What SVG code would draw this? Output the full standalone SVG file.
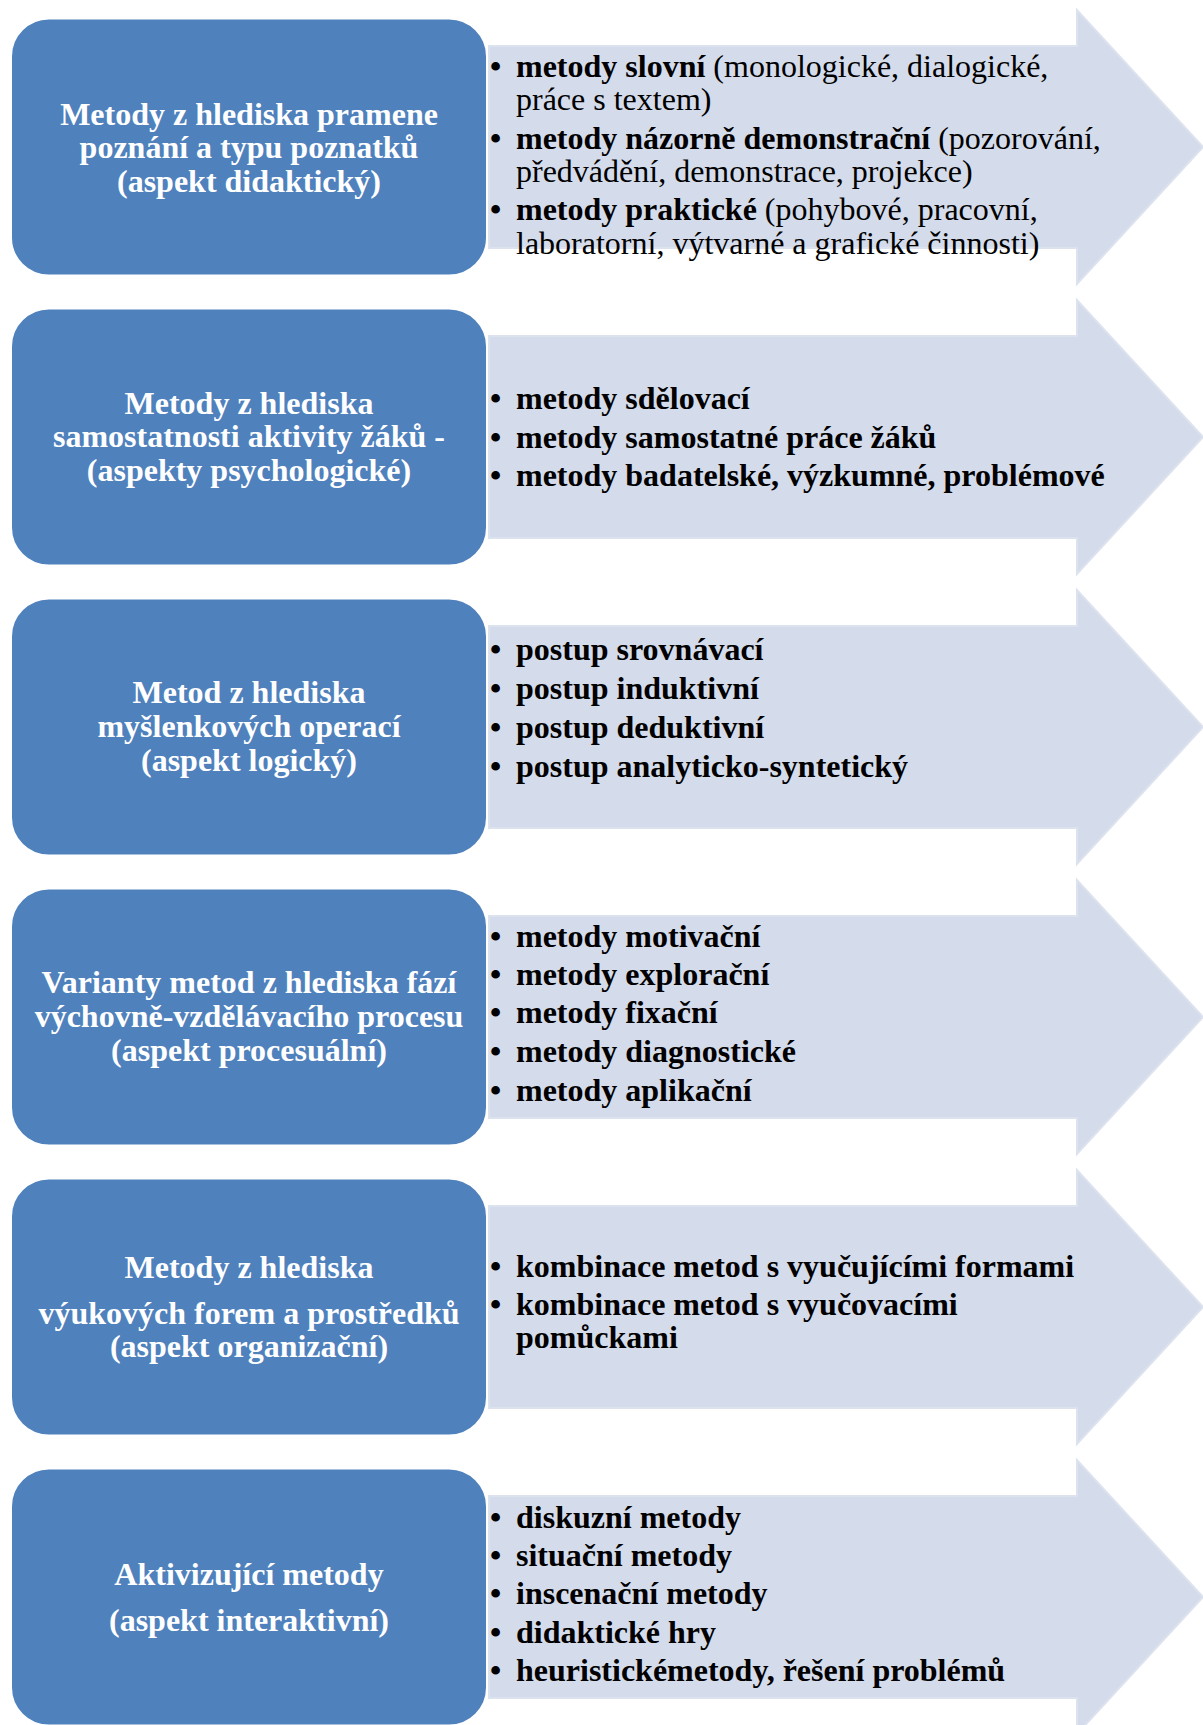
<svg xmlns="http://www.w3.org/2000/svg" xmlns:xlink="http://www.w3.org/1999/xlink" width="1203" height="1725" viewBox="0 0 1203 1725">
  <style>
    .box { fill: #4F81BD; stroke: #FFFFFF; stroke-width: 2; }
    .arrow { fill: #D4DBEA; stroke: #DCE2EE; stroke-width: 2; }
    .title { font-family: "Liberation Serif", "Times New Roman", serif; font-size: 32px; font-weight: bold; fill: #FFFFFF; text-anchor: middle; }
    .item { font-family: "Liberation Serif", "Times New Roman", serif; font-size: 32px; font-weight: bold; fill: #000000; }
    .plain { font-weight: normal; }
  </style>
  <defs>
    <!-- block arrow centred on y = 0 -->
    <path id="blockArrow" d="M489,-101 H1077 V-137 L1203,0 L1077,137 V101 H489 Z"/>
  </defs>

  <rect width="1203" height="1725" fill="#FFFFFF"/>

  <!-- block arrows carrying the item lists -->
  <g id="connectors">
    <use xlink:href="#blockArrow" class="arrow" transform="translate(0,147)"/>
    <use xlink:href="#blockArrow" class="arrow" transform="translate(0,437)"/>
    <use xlink:href="#blockArrow" class="arrow" transform="translate(0,727)"/>
    <use xlink:href="#blockArrow" class="arrow" transform="translate(0,1017)"/>
    <use xlink:href="#blockArrow" class="arrow" transform="translate(0,1307)"/>
    <use xlink:href="#blockArrow" class="arrow" transform="translate(0,1597)"/>
  </g>

  <!-- row 1 -->
  <g id="node-didakticky">
    <rect class="box" x="11" y="18.5" width="476" height="257" rx="38"/>
    <text class="title" x="249" y="125">Metody z hlediska pramene</text>
    <text class="title" x="249" y="158">poznání a typu poznatků</text>
    <text class="title" x="249" y="192">(aspekt didaktický)</text>
  </g>
  <g id="list-didakticky" class="item">
    <text x="490" y="77">•</text>
    <text x="516" y="77">metody slovní<tspan class="plain"> (monologické, dialogické,</tspan></text>
    <text x="516" y="110" class="plain">práce s textem)</text>
    <text x="490" y="149">•</text>
    <text x="516" y="149">metody názorně demonstrační<tspan class="plain"> (pozorování,</tspan></text>
    <text x="516" y="182" class="plain">předvádění, demonstrace, projekce)</text>
    <text x="490" y="220">•</text>
    <text x="516" y="220">metody praktické<tspan class="plain"> (pohybové, pracovní,</tspan></text>
    <text x="516" y="254" class="plain">laboratorní, výtvarné a grafické činnosti)</text>
  </g>

  <!-- row 2 -->
  <g id="node-psychologicky">
    <rect class="box" x="11" y="308.5" width="476" height="257" rx="38"/>
    <text class="title" x="249" y="414">Metody z hlediska</text>
    <text class="title" x="249" y="447">samostatnosti aktivity žáků -</text>
    <text class="title" x="249" y="481">(aspekty psychologické)</text>
  </g>
  <g id="list-psychologicky" class="item">
    <text x="490" y="409">•</text><text x="516" y="409">metody sdělovací</text>
    <text x="490" y="448">•</text><text x="516" y="448">metody samostatné práce žáků</text>
    <text x="490" y="486">•</text><text x="516" y="486">metody badatelské, výzkumné, problémové</text>
  </g>

  <!-- row 3 -->
  <g id="node-logicky">
    <rect class="box" x="11" y="598.5" width="476" height="257" rx="38"/>
    <text class="title" x="249" y="703">Metod z hlediska</text>
    <text class="title" x="249" y="737">myšlenkových operací</text>
    <text class="title" x="249" y="771">(aspekt logický)</text>
  </g>
  <g id="list-logicky" class="item">
    <text x="490" y="660">•</text><text x="516" y="660">postup srovnávací</text>
    <text x="490" y="699">•</text><text x="516" y="699">postup induktivní</text>
    <text x="490" y="738">•</text><text x="516" y="738">postup deduktivní</text>
    <text x="490" y="777">•</text><text x="516" y="777">postup analyticko-syntetický</text>
  </g>

  <!-- row 4 -->
  <g id="node-procesualni">
    <rect class="box" x="11" y="888.5" width="476" height="257" rx="38"/>
    <text class="title" x="249" y="993">Varianty metod z hlediska fází</text>
    <text class="title" x="249" y="1027">výchovně-vzdělávacího procesu</text>
    <text class="title" x="249" y="1061">(aspekt procesuální)</text>
  </g>
  <g id="list-procesualni" class="item">
    <text x="490" y="947">•</text><text x="516" y="947">metody motivační</text>
    <text x="490" y="985">•</text><text x="516" y="985">metody explorační</text>
    <text x="490" y="1023">•</text><text x="516" y="1023">metody fixační</text>
    <text x="490" y="1062">•</text><text x="516" y="1062">metody diagnostické</text>
    <text x="490" y="1101">•</text><text x="516" y="1101">metody aplikační</text>
  </g>

  <!-- row 5 -->
  <g id="node-organizacni">
    <rect class="box" x="11" y="1178.5" width="476" height="257" rx="38"/>
    <text class="title" x="249" y="1278">Metody z hlediska</text>
    <text class="title" x="249" y="1324">výukových forem a prostředků</text>
    <text class="title" x="249" y="1357">(aspekt organizační)</text>
  </g>
  <g id="list-organizacni" class="item">
    <text x="490" y="1277">•</text><text x="516" y="1277">kombinace metod s vyučujícími formami</text>
    <text x="490" y="1315">•</text><text x="516" y="1315">kombinace metod s vyučovacími</text>
    <text x="516" y="1348">pomůckami</text>
  </g>

  <!-- row 6 -->
  <g id="node-interaktivni">
    <rect class="box" x="11" y="1468.5" width="476" height="257" rx="38"/>
    <text class="title" x="249" y="1585">Aktivizující metody</text>
    <text class="title" x="249" y="1631">(aspekt interaktivní)</text>
  </g>
  <g id="list-interaktivni" class="item">
    <text x="490" y="1528">•</text><text x="516" y="1528">diskuzní metody</text>
    <text x="490" y="1566">•</text><text x="516" y="1566">situační metody</text>
    <text x="490" y="1604">•</text><text x="516" y="1604">inscenační metody</text>
    <text x="490" y="1643">•</text><text x="516" y="1643">didaktické hry</text>
    <text x="490" y="1681">•</text><text x="516" y="1681">heuristickémetody, řešení problémů</text>
  </g>
</svg>
